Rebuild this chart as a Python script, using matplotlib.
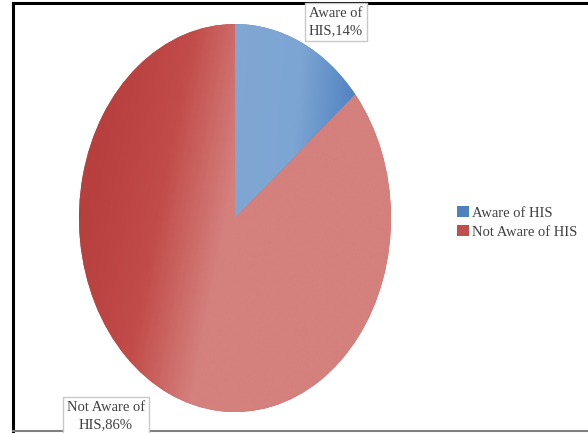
import numpy as np
import matplotlib.pyplot as plt
import matplotlib.colors as mcolors
from matplotlib.lines import Line2D

labels = ['Aware of HIS', 'Not Aware of HIS']
shares = [14, 86]
box_labels = ['Aware of\nHIS,14%', 'Not Aware of\nHIS,86%']
base_colors = ['#4F81BD', '#C0504D']

# gradient stops per wedge (position across wedge width, colour)
grad_stops = [
    [(0.0, '#80A7D4'), (0.45, '#7DA5D3'), (1.0, '#4A7DBF')],
    [(0.0, '#B73F3E'), (0.25, '#C24C49'), (0.47, '#D4807D'), (1.0, '#D4807D')],
]

plt.rcParams['font.family'] = ['Liberation Serif', 'DejaVu Serif']

fig = plt.figure(figsize=(5.88, 4.33), dpi=100)
W, H = 588, 433
ax = fig.add_axes([79 / W, 1 - 412 / H, 312 / W, 388 / H])

wedges, _ = ax.pie(shares, colors=base_colors, startangle=90, counterclock=False,
                   radius=1, wedgeprops=dict(linewidth=0))
ax.set_aspect('auto')
ax.axis('off')

# gradient fills clipped to each wedge
n = 400
gx, gy = np.meshgrid(np.linspace(-1, 1, n), np.linspace(1, -1, n))
fig.canvas.draw()
inv = ax.transData.inverted()
for w, stops in zip(wedges, grad_stops):
    bb = w.get_window_extent().transformed(inv)
    x0, x1 = bb.x0, bb.x1
    t = (gx - x0) / (x1 - x0) - 0.12 * gy
    cmap = mcolors.LinearSegmentedColormap.from_list('g', stops)
    im = ax.imshow(np.clip(t, 0, 1), cmap=cmap, vmin=0, vmax=1, zorder=3,
                   extent=(-1, 1, -1, 1), aspect='auto', interpolation='bilinear')
    im.set_clip_path(w)
ax.set_xlim(-1, 1)
ax.set_ylim(-1, 1)

# data label boxes
box_pos = [(336, 22), (106, 416)]
for txt, (px, py) in zip(box_labels, box_pos):
    fig.text(px / W, 1 - py / H, txt, ha='center', va='center', fontsize=10.5,
             color='#404040', linespacing=1.45, zorder=5,
             bbox=dict(boxstyle='square,pad=0.25', fc='white', ec='#C8C8C8', lw=1))

# legend
fig.legend(wedges, labels, loc='upper left', bbox_to_anchor=(450 / W, 1 - 199 / H),
           frameon=False, fontsize=10.5, handlelength=0.8, handleheight=0.8,
           handletextpad=0.2, labelspacing=0.35, borderpad=0, labelcolor='#404040')

# frame lines
fig.add_artist(Line2D([13 / W, 13 / W], [0, 1 - 3 / H], color='black', lw=2.2,
                      transform=fig.transFigure))
fig.add_artist(Line2D([13 / W, 1], [1 - 3 / H, 1 - 3 / H], color='black', lw=2.2,
                      transform=fig.transFigure))
fig.add_artist(Line2D([13 / W, 1], [1 - 431 / H, 1 - 431 / H], color='#808080', lw=1.5,
                      transform=fig.transFigure))

fig.savefig('out.png', dpi=100)
